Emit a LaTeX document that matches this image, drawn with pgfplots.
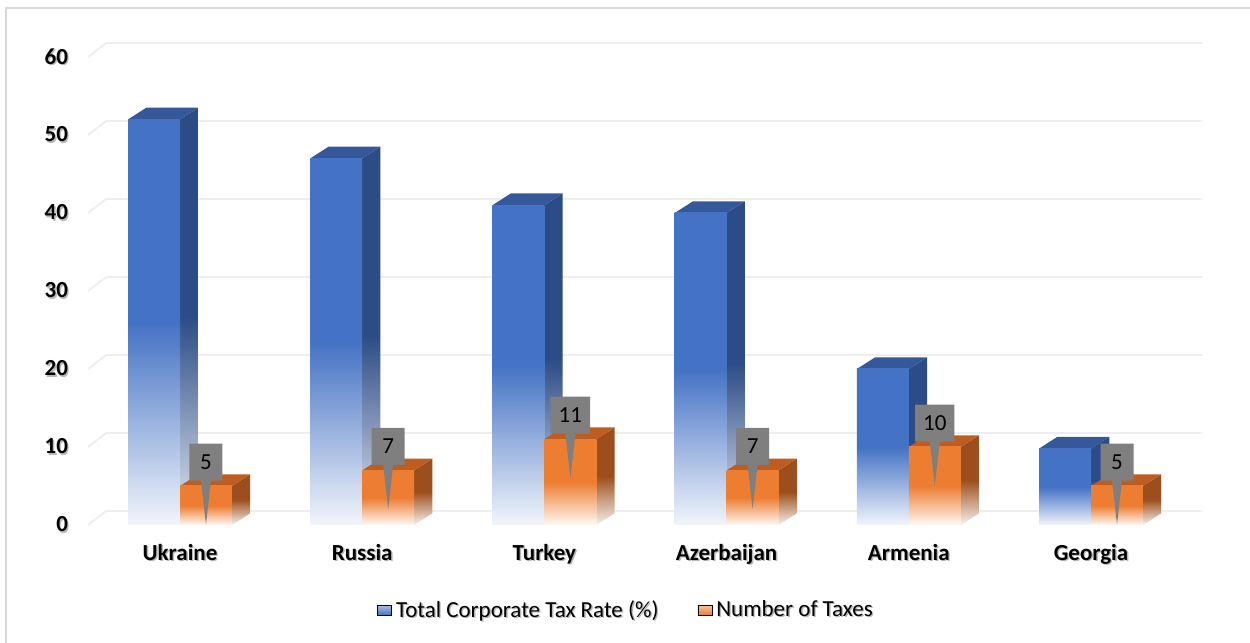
\documentclass[border=0pt]{standalone}
\usepackage{fontspec}
\setmainfont{Carlito}
\usepackage{pgfplots}
\usepackage{pgfplotstable}
\pgfplotsset{compat=1.18}
\usetikzlibrary{shapes.callouts}

\definecolor{bfront}{HTML}{4472C4}
\definecolor{btop}{HTML}{34589A}
\definecolor{bside}{HTML}{2B4C86}
\definecolor{ofront}{HTML}{ED7D31}
\definecolor{otop}{HTML}{BF5D20}
\definecolor{oside}{HTML}{9C4F1C}
\definecolor{gridc}{HTML}{EEEEEE}
\definecolor{framec}{HTML}{D9D9D9}
\definecolor{callc}{HTML}{7F7F7F}

\pgfplotstableread{
idx rate tax
0 52 5
1 47 7
2 41 11
3 40 7
4 20 10
5 9.8 5
}\datatable

\newcommand\sh[1]{\rlap{\kern0.7pt\raisebox{-0.7pt}{\color{black!28}#1}}#1}
\newcommand\lblfont{\fontsize{11.5}{13}\selectfont}

\begin{document}
\begin{tikzpicture}
\useasboundingbox (-44pt,-59pt) rectangle (581pt,262.5pt);
\fill[white] (-44pt,-59pt) rectangle (581pt,262.5pt);
\draw[framec, line width=0.8pt] (-41pt,-60pt) -- (-41pt,258.5pt) -- (582pt,258.5pt);
\begin{axis}[
  at={(0pt,0pt)}, anchor=south west,
  scale only axis, width=558pt, height=241.8pt,
  xmin=-0.505, xmax=5.62, ymin=0, ymax=62,
  axis line style={draw=none},
  major tick length=0pt,
  clip=false,
  xtick={0,1,2,3,4,5},
  xticklabels={\sh{Ukraine},\sh{Russia},\sh{Turkey},\sh{Azerbaijan},\sh{Armenia},\sh{Georgia}},
  ytick={0,10,20,30,40,50,60},
  yticklabel={\sh{\pgfmathprintnumber{\tick}}},
  /pgf/number format/assume math mode=true,
  xticklabel style={font=\bfseries\lblfont, yshift=-6pt},
  yticklabel style={font=\bfseries\lblfont, xshift=-6.5pt},
  legend columns=2,
  legend style={draw=none, fill=none, at={(0.483,-0.176)}, anchor=center,
    font=\lblfont, /tikz/every even column/.append style={column sep=17.5pt}},
  legend cell align=left,
]
% back-wall gridlines
\pgfplotsinvokeforeach{0,10,20,30,40,50,60}{
  \draw[gridc, line width=0.9pt] (axis cs:-0.505,#1) -- (axis cs:-0.405,#1+1.8) -- (axis cs:5.61,#1+1.8);
}
% 3D bars
\pgfplotsinvokeforeach{0,1,2,3,4,5}{
  \pgfplotstablegetelem{#1}{rate}\of\datatable
  \pgfmathsetmacro\vb{\pgfplotsretval}
  \pgfplotstablegetelem{#1}{tax}\of\datatable
  \pgfmathsetmacro\vo{\pgfplotsretval}
  \pgfmathsetmacro\xa{#1-0.285}
  \pgfmathsetmacro\xb{#1}
  \pgfmathsetmacro\xc{#1+0.285}
  \pgfmathsetmacro\xad{#1-0.185}
  \pgfmathsetmacro\xbd{#1+0.1}
  \pgfmathsetmacro\xcd{#1+0.385}
  \pgfmathsetmacro\vbd{\vb+1.5}
  \pgfmathsetmacro\vod{\vo+1.5}
  % blue side
  \addplot[forget plot, draw=none, top color=bside, bottom color=bside!12!white, middle color=bside]
    coordinates {(\xb,0) (\xbd,1.5) (\xbd,\vbd) (\xb,\vb)} -- cycle;
  % blue top
  \addplot[forget plot, draw=none, fill=btop]
    coordinates {(\xa,\vb) (\xb,\vb) (\xbd,\vbd) (\xad,\vbd)} -- cycle;
  % blue front
  \addplot[forget plot, draw=none, top color=bfront, bottom color=bfront!7!white, middle color=bfront]
    coordinates {(\xa,0) (\xb,0) (\xb,\vb) (\xa,\vb)} -- cycle;
  % orange side
  \addplot[forget plot, draw=none, top color=oside, bottom color=oside!8!white, middle color=oside]
    coordinates {(\xc,0) (\xcd,1.5) (\xcd,\vod) (\xc,\vo)} -- cycle;
  % orange top
  \addplot[forget plot, draw=none, fill=otop]
    coordinates {(\xb,\vo) (\xc,\vo) (\xcd,\vod) (\xbd,\vod)} -- cycle;
  % orange front
  \addplot[forget plot, draw=none, top color=ofront, bottom color=ofront!5!white, middle color=ofront]
    coordinates {(\xb,0) (\xc,0) (\xc,\vo) (\xb,\vo)} -- cycle;
}
% callout data labels
\addplot[forget plot, draw=none, mark=none, nodes near coords, point meta=explicit,
  nodes near coords style={rectangle callout, fill=callc, text=black, anchor=south,
    minimum height=18.5pt, minimum width=16.5pt, inner xsep=4pt, inner ysep=0pt,
    callout relative pointer={(0pt,-22pt)}, callout pointer width=5pt, font=\lblfont}]
  table[x expr=\thisrow{idx}+0.1425, y expr=\thisrow{tax}+0.65, meta=tax] {\datatable};
% legend
\addlegendimage{legend image code/.code={\shade[top color=bfront!45!white, bottom color=bfront] (0pt,-2.5pt) rectangle (7pt,2.5pt);}}
\addlegendentry{\sh{Total Corporate Tax Rate (\%)}}
\addlegendimage{legend image code/.code={\shade[top color=ofront!45!white, bottom color=ofront] (0pt,-2.5pt) rectangle (7pt,2.5pt);}}
\addlegendentry{\sh{Number of Taxes}}
\end{axis}
\end{tikzpicture}
\end{document}
